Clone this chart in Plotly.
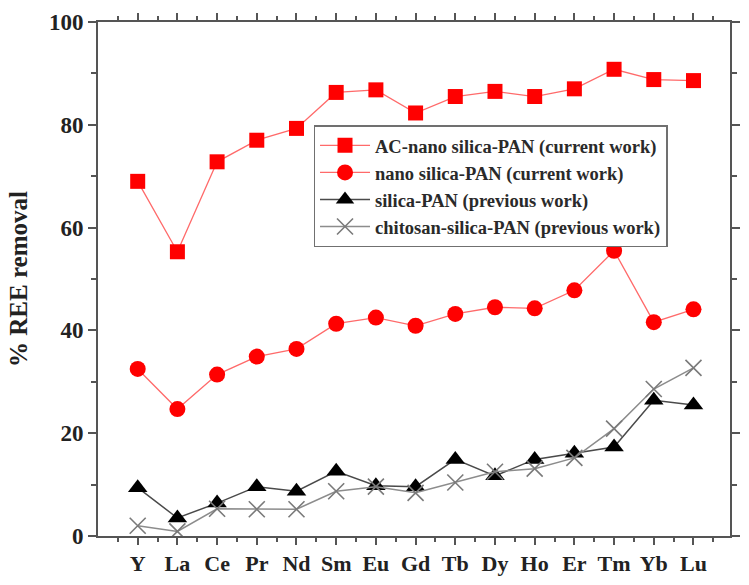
import plotly.graph_objects as go

elements = ["Y", "La", "Ce", "Pr", "Nd", "Sm", "Eu", "Gd", "Tb", "Dy", "Ho", "Er", "Tm", "Yb", "Lu"]

ac_nano_silica_pan = [69.0, 55.3, 72.8, 77.0, 79.3, 86.3, 86.8, 82.3, 85.5, 86.5, 85.5, 87.0, 90.8, 88.8, 88.6]
nano_silica_pan = [32.5, 24.7, 31.4, 34.9, 36.4, 41.3, 42.5, 40.9, 43.2, 44.5, 44.3, 47.8, 55.5, 41.6, 44.1]
silica_pan = [9.4, 3.5, 6.4, 9.6, 8.7, 12.6, 9.8, 9.6, 14.9, 11.7, 14.9, 16.1, 17.3, 26.4, 25.5]
chitosan_silica_pan = [2.0, 0.9, 5.3, 5.2, 5.2, 8.7, 9.6, 8.4, 10.4, 12.5, 13.1, 15.2, 20.9, 28.6, 32.7]

names = [
    "AC-nano silica-PAN (current work)",
    "nano silica-PAN (current work)",
    "silica-PAN (previous work)",
    "chitosan-silica-PAN (previous work)",
]

x = list(range(len(elements)))
FONT = "Liberation Serif"

fig = go.Figure()
fig.add_trace(go.Scatter(
    x=x, y=ac_nano_silica_pan, name=names[0], mode="lines+markers",
    line=dict(color="#ff6a6a", width=1.3),
    marker=dict(symbol="square", size=15, color="#ff0000"),
))
fig.add_trace(go.Scatter(
    x=x, y=nano_silica_pan, name=names[1], mode="lines+markers",
    line=dict(color="#ff6a6a", width=1.3),
    marker=dict(symbol="circle", size=16, color="#ff0000"),
))
fig.add_trace(go.Scatter(
    x=x, y=silica_pan, name=names[2], mode="lines+markers",
    line=dict(color="#4a4a4a", width=1.5),
    marker=dict(symbol="triangle-up", size=17, color="#000000"),
))
fig.add_trace(go.Scatter(
    x=x, y=chitosan_silica_pan, name=names[3], mode="lines+markers",
    line=dict(color="#8c8c8c", width=1.5),
    marker=dict(symbol="x-thin", size=16, color="#7a7a7a",
                line=dict(color="#7a7a7a", width=1.6)),
))

half = [i - 0.5 for i in range(len(elements) + 1)]

fig.update_layout(
    width=749, height=585,
    margin=dict(l=98, r=9, t=22, b=45),
    plot_bgcolor="white", paper_bgcolor="white",
    font=dict(family=FONT, color="#222222"),
    showlegend=True,
    legend=dict(
        x=0.341, y=0.799, xanchor="left", yanchor="top",
        bgcolor="white", bordercolor="#707070", borderwidth=1.5,
        font=dict(family=FONT, size=18.5, color="#2a2a2a", weight="bold"),
        tracegroupgap=0, itemwidth=50,
    ),
    xaxis=dict(
        range=[-1, 14.92], tickmode="array", tickvals=x, ticktext=elements,
        showgrid=False, zeroline=False,
        showline=True, linecolor="#555555", linewidth=2, mirror="ticks",
        ticks="outside", ticklen=7, tickwidth=1.5, tickcolor="#555555",
        tickfont=dict(family=FONT, size=22, color="#222222", weight="bold"),
        minor=dict(tickvals=half, ticks="outside", ticklen=4, tickwidth=1.5, tickcolor="#555555"),
    ),
    yaxis=dict(
        range=[0, 100], tickmode="array", tickvals=[0, 20, 40, 60, 80, 100],
        showgrid=False, zeroline=False,
        showline=True, linecolor="#555555", linewidth=2, mirror="ticks",
        ticks="outside", ticklen=8, tickwidth=1.5, tickcolor="#555555",
        tickfont=dict(family=FONT, size=23, color="#222222", weight="bold"),
        minor=dict(tickvals=[10, 30, 50, 70, 90], ticks="outside", ticklen=5, tickwidth=1.5, tickcolor="#555555"),
        title=dict(text="% REE removal", standoff=14,
                   font=dict(family=FONT, size=25, color="#222222", weight="bold")),
    ),
)

fig.write_html("out.html")
